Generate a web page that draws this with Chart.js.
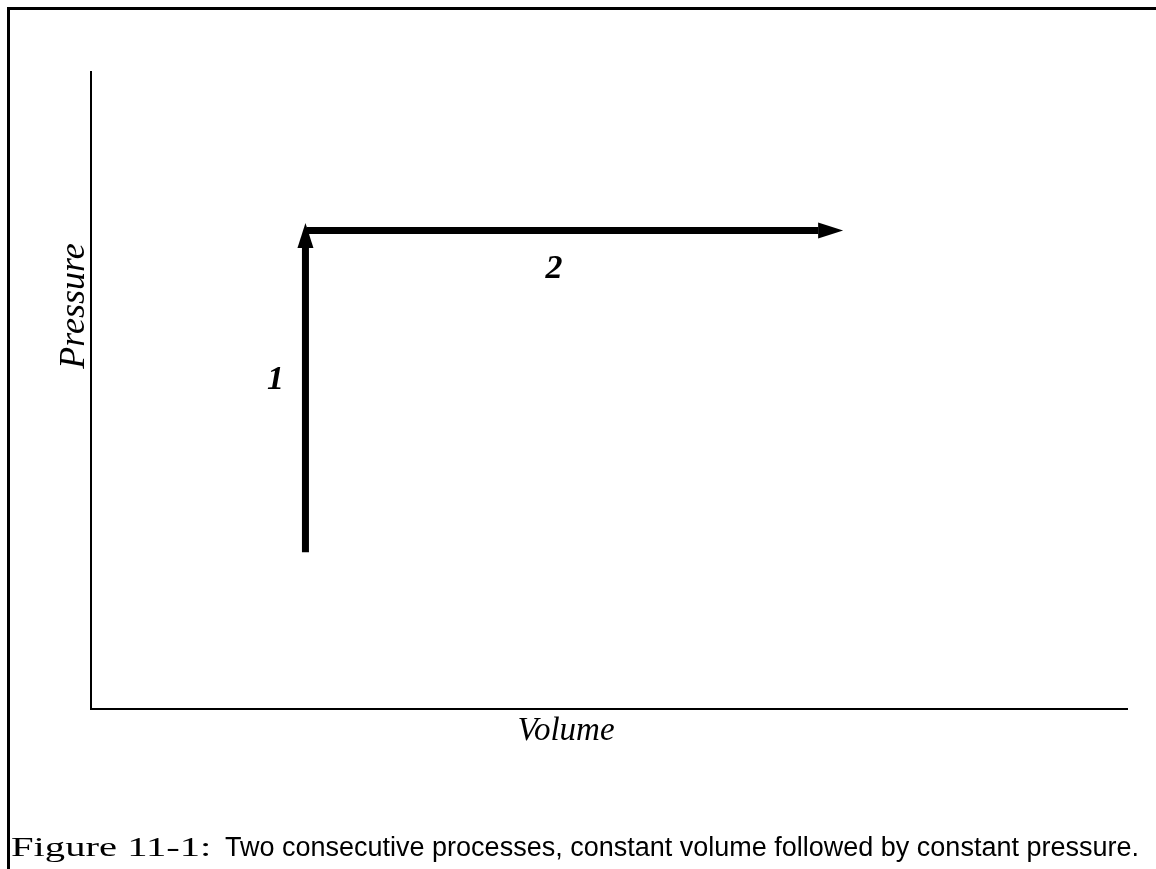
<!DOCTYPE html>
<html>
<head>
<meta charset="utf-8">
<script src="https://cdn.jsdelivr.net/npm/chart.js@4.4.0/dist/chart.umd.min.js"></script>
<style>
  html, body { margin: 0; padding: 0; background: #fff; }
  body { width: 1156px; height: 869px; position: relative; overflow: hidden; }
  #frame { position: absolute; left: 7px; top: 7px; width: 1200px; height: 900px;
           border-top: 3px solid #000; border-left: 3px solid #000; }
  #chart { position: absolute; left: 0; top: 0; }
  .cap { position: absolute; top: 833px; line-height: 28px; white-space: nowrap; color: #000; }
  #capFig { left: 11px; font-family: "Liberation Serif", serif; font-size: 28px;
            transform: scaleX(1.45); transform-origin: 0 0; }
  #capText { left: 225px; font-family: "Liberation Sans", sans-serif; font-size: 27px; }
</style>
</head>
<body>
<div id="frame"></div>
<canvas id="chart" width="1156" height="869"></canvas>
<div class="cap" id="capFig">Figure 11-1:</div>
<div class="cap" id="capText">Two consecutive processes, constant volume followed by constant pressure.</div>
<script>
// process 1: constant volume
var volume1 = [20.7, 20.7];
var pressure1 = [24.6, 76.3];
// process 2: constant pressure
var volume2 = [20.85, 72.6];
var pressure2 = [75.1, 75.1];
var processLabels = ['1', '2'];

function toPoints(xs, ys) {
    return xs.map(function (x, i) { return {x: x, y: ys[i]}; });
}

// arrow head size in px
var headLen = 25;
var headHalf = 8;

function arrowInfo(chart, index) {
    var meta = chart.getDatasetMeta(index);
    var pts = meta.data;
    var a = pts[pts.length - 2], b = pts[pts.length - 1];
    var dx = b.x - a.x, dy = b.y - a.y;
    var len = Math.sqrt(dx * dx + dy * dy);
    return {tipX: b.x, tipY: b.y, ux: dx / len, uy: dy / len, a: a};
}

var arrowPlugin = {
    id: 'arrows',
    beforeDatasetDraw: function (chart, args) {
        var ctx = chart.ctx;
        var info = arrowInfo(chart, args.index);
        var bx = info.tipX - info.ux * headLen, by = info.tipY - info.uy * headLen;
        var px = -info.uy, py = info.ux;
        ctx.save();
        ctx.beginPath();
        ctx.rect(0, 0, chart.width, chart.height);
        // cut away the shaft under the head
        ctx.moveTo(bx + px * 6, by + py * 6);
        ctx.lineTo(bx - px * 6, by - py * 6);
        ctx.lineTo(info.tipX - px * 6 + info.ux * 2, info.tipY - py * 6 + info.uy * 2);
        ctx.lineTo(info.tipX + px * 6 + info.ux * 2, info.tipY + py * 6 + info.uy * 2);
        ctx.closePath();
        ctx.clip('evenodd');
    },
    afterDatasetDraw: function (chart, args) {
        var ctx = chart.ctx;
        ctx.restore();
        var info = arrowInfo(chart, args.index);
        var bx = info.tipX - info.ux * headLen, by = info.tipY - info.uy * headLen;
        var px = -info.uy, py = info.ux;
        ctx.save();
        ctx.fillStyle = '#000';
        ctx.beginPath();
        ctx.moveTo(info.tipX, info.tipY);
        ctx.lineTo(bx + px * headHalf, by + py * headHalf);
        ctx.lineTo(bx - px * headHalf, by - py * headHalf);
        ctx.closePath();
        ctx.fill();
        ctx.restore();
    },
    afterDraw: function (chart) {
        var ctx = chart.ctx;
        var area = chart.chartArea;
        ctx.save();
        ctx.fillStyle = '#000';
        ctx.textAlign = 'center';
        ctx.textBaseline = 'middle';
        // process numbers near the middle of each segment
        ctx.font = 'italic bold 34px "Liberation Serif"';
        var m0 = chart.getDatasetMeta(0).data;
        ctx.fillText(processLabels[0], (m0[0].x + m0[1].x) / 2 - 30, (m0[0].y + m0[1].y) / 2 - 7);
        var m1 = chart.getDatasetMeta(1).data;
        ctx.fillText(processLabels[1], (m1[0].x + m1[1].x) / 2 - 21, (m1[0].y + m1[1].y) / 2 + 39);
        // axis titles
        ctx.font = 'italic 33px "Liberation Serif"';
        ctx.textBaseline = 'alphabetic';
        ctx.fillText('Volume', area.left + 475, area.bottom + 31);
        ctx.translate(area.left - 7, area.top + 234);
        ctx.rotate(-Math.PI / 2);
        ctx.font = 'italic 36px "Liberation Serif"';
        ctx.fillText('Pressure', 0, 0);
        ctx.restore();
    }
};

var ctx = document.getElementById('chart').getContext('2d');
var chart = new Chart(ctx, {
    type: 'scatter',
    data: {
        datasets: [
            { data: toPoints(volume1, pressure1), showLine: true },
            { data: toPoints(volume2, pressure2), showLine: true }
        ]
    },
    options: {
        responsive: false,
        animation: false,
        events: [],
        layout: { padding: { left: 91, top: 72, right: 29, bottom: 160 } },
        elements: {
            line: { borderColor: '#000', borderWidth: 7, borderCapStyle: 'butt', tension: 0 },
            point: { radius: 0 }
        },
        plugins: { legend: { display: false }, tooltip: { enabled: false } },
        scales: {
            x: {
                type: 'linear', min: 0, max: 100,
                ticks: { display: false },
                grid: { display: false, drawTicks: false, tickLength: 0 },
                border: { display: true, color: '#000', width: 2 }
            },
            y: {
                type: 'linear', min: 0, max: 100,
                ticks: { display: false },
                grid: { display: false, drawTicks: false, tickLength: 0 },
                border: { display: true, color: '#000', width: 2 }
            }
        }
    },
    plugins: [arrowPlugin]
});
</script>
</body>
</html>
